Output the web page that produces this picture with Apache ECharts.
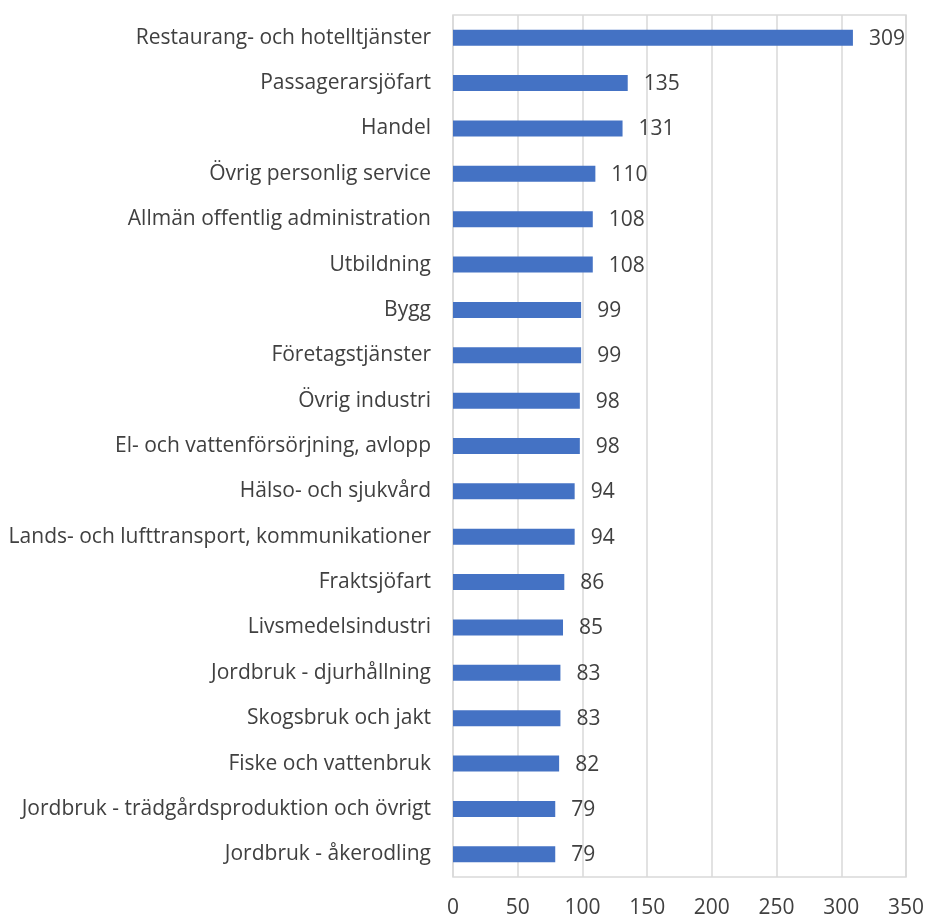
<!DOCTYPE html>
<html>
<head>
<meta charset="utf-8">
<script src="https://cdn.jsdelivr.net/npm/echarts@6/dist/echarts.min.js"></script>
<style>
  html, body { margin: 0; padding: 0; background: #fff; }
  #chart { width: 927px; height: 919px; }
</style>
</head>
<body>
<div id="chart"></div>
<script>
const categories = [
  'Restaurang- och hotelltjänster',
  'Passagerarsjöfart',
  'Handel',
  'Övrig personlig service',
  'Allmän offentlig administration',
  'Utbildning',
  'Bygg',
  'Företagstjänster',
  'Övrig industri',
  'El- och vattenförsörjning, avlopp',
  'Hälso- och sjukvård',
  'Lands- och lufttransport, kommunikationer',
  'Fraktsjöfart',
  'Livsmedelsindustri',
  'Jordbruk - djurhållning',
  'Skogsbruk och jakt',
  'Fiske och vattenbruk',
  'Jordbruk - trädgårdsproduktion och övrigt',
  'Jordbruk - åkerodling'
];
const values = [309, 135, 131, 110, 108, 108, 99, 99, 98, 98, 94, 94, 86, 85, 83, 83, 82, 79, 79];
const axisMin = 0;
const axisMax = 350;
const axisStep = 50;

const textColor = '#404040';
const fontFamily = '"Open Sans", "Noto Sans", sans-serif';

const chart = echarts.init(document.getElementById('chart'), null, { renderer: 'canvas' });
chart.setOption({
  animation: false,
  grid: {
    left: 453, top: 15, right: 21, bottom: 39,
    show: true, borderColor: '#d9d9d9', borderWidth: 1.5,
    containLabel: false
  },
  xAxis: {
    type: 'value',
    min: axisMin, max: axisMax, interval: axisStep,
    axisLine: { show: false },
    axisTick: { show: false },
    splitLine: { show: true, lineStyle: { color: '#d9d9d9', width: 1.5 } },
    axisLabel: { color: textColor, fontSize: 21, fontFamily: fontFamily, margin: 21 }
  },
  yAxis: {
    type: 'category',
    data: categories,
    inverse: true,
    axisLine: { show: false },
    axisTick: { show: false },
    axisLabel: { color: textColor, fontSize: 21, fontFamily: fontFamily, margin: 22, padding: [2, 0, 0, 0] }
  },
  series: [{
    type: 'bar',
    data: values,
    barWidth: 16,
    itemStyle: { color: '#4472C4' },
    label: {
      show: true, position: 'right', distance: 16, offset: [0, 1],
      color: textColor, fontSize: 21, fontFamily: fontFamily
    }
  }]
});
</script>
</body>
</html>
